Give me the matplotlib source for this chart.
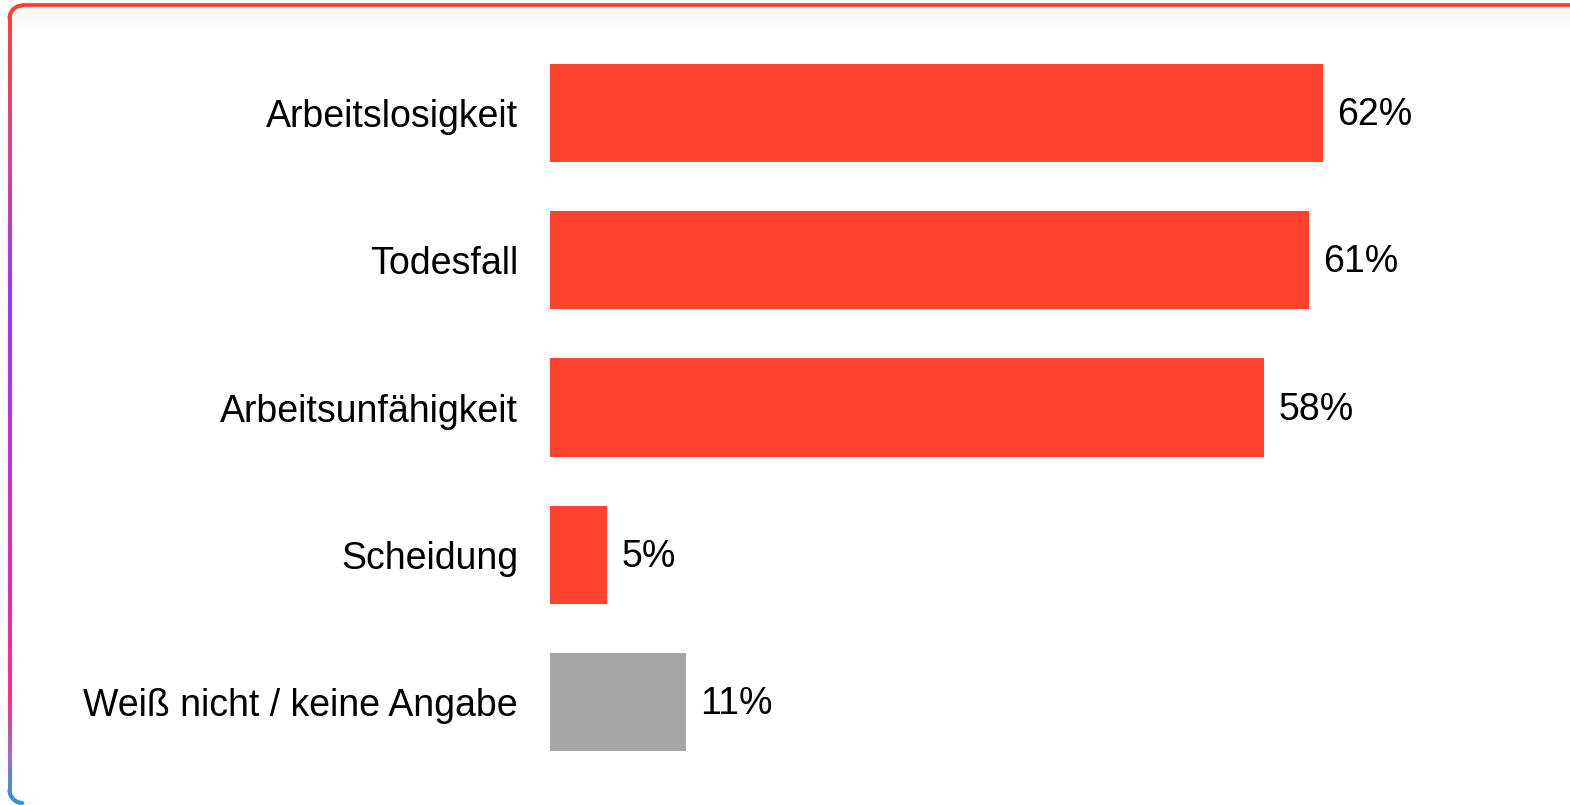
import numpy as np
import matplotlib.pyplot as plt
from matplotlib.collections import LineCollection
from matplotlib.colors import LinearSegmentedColormap

# Data
categories = ["Arbeitslosigkeit", "Todesfall", "Arbeitsunfähigkeit", "Scheidung",
              "Weiß nicht / keine Angabe"]
values = [62.0, 60.9, 57.3, 4.6, 10.9]
value_labels = ["62%", "61%", "58%", "5%", "11%"]
bar_colors = ["#ff432d", "#ff432d", "#ff432d", "#ff432d", "#a6a6a6"]

W, H = 1570, 805
DPI = 100
plt.rcParams['font.family'] = ['Liberation Sans', 'DejaVu Sans']

fig = plt.figure(figsize=(W / DPI, H / DPI), dpi=DPI)
fig.patch.set_facecolor("white")

# background axes in pixel coordinates for the card decoration
bg = fig.add_axes([0, 0, 1, 1])
bg.set_xlim(0, W)
bg.set_ylim(H, 0)
bg.axis("off")

# faint shadow under the top border
shade = np.linspace(1, 0, 50).reshape(-1, 1)
shade_cmap = LinearSegmentedColormap.from_list("sh", [(0.5, 0.5, 0.5, 0.0), (0.5, 0.5, 0.5, 0.07)])
bg.imshow(shade, cmap=shade_cmap, extent=[11, W, 34, 7], aspect="auto", zorder=0)

# border path: top edge, rounded top-left corner, left edge, rounded bottom-left corner
r = 13
x0, y0 = 9.5, 5.5
pts = [(W, y0), (x0 + r, y0)]
th = np.linspace(np.pi / 2, np.pi, 20)
pts += [(x0 + r + r * np.cos(t), y0 + r - r * np.sin(t)) for t in th]
pts += [(x0, y) for y in np.linspace(y0 + r, 790, 400)]
th = np.linspace(np.pi, 1.5 * np.pi, 20)
pts += [(x0 + r + r * np.cos(t), 790 - r * np.sin(t)) for t in th]
pts = np.array(pts)
segs = np.stack([pts[:-1], pts[1:]], axis=1)
ymid = (segs[:, 0, 1] + segs[:, 1, 1]) / 2

stops = [(0.0, "#ff4030"), (15 / 805, "#ff4030"), (150 / 805, "#e0408c"),
         (300 / 805, "#a032ff"), (580 / 805, "#e824c0"), (700 / 805, "#ff2a80"),
         (760 / 805, "#9a70c8"), (1.0, "#2d92e2")]
border_cmap = LinearSegmentedColormap.from_list("border", stops)
lc = LineCollection(segs, colors=border_cmap(ymid / H), linewidths=3.8 * 72 / DPI,
                    capstyle="round")
bg.add_collection(lc)

# chart axes
left_px, right_px = 550, 1550
scale = (1323 - 550) / values[0]
top_px, bot_px = 113 - 147.25 / 2, 702 + 147.25 / 2
ax = fig.add_axes([left_px / W, (H - bot_px) / H, (right_px - left_px) / W, (bot_px - top_px) / H])
ax.patch.set_alpha(0)
y = np.arange(len(categories))
ax.barh(y, values, height=98 / 147.25, color=bar_colors)
ax.set_xlim(0, (right_px - left_px) / scale)
ax.set_ylim(len(categories) - 0.5, -0.5)
ax.set_yticks(y)
ax.set_yticklabels(categories, fontsize=27)
ax.tick_params(axis="y", length=0, pad=32 * 72 / DPI)
ax.set_xticks([])
for s in ax.spines.values():
    s.set_visible(False)

for yi, v, lab in zip(y, values, value_labels):
    ax.annotate(lab, (v, yi), xytext=(14 * 72 / DPI, -2 * 72 / DPI), textcoords="offset points",
                ha="left", va="center", fontsize=27)

fig.savefig("out.png", dpi=DPI)
